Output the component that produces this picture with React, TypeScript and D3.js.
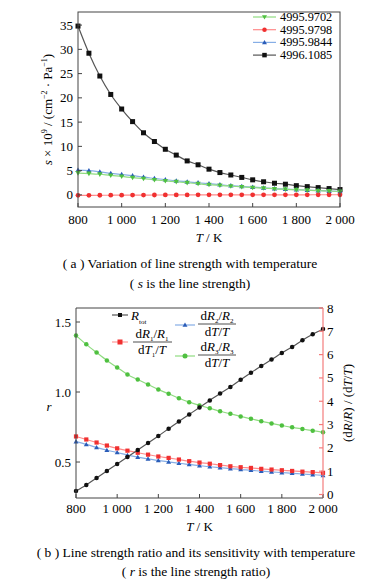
import React from "react";
import * as d3 from "d3";

const temps = [800, 850, 900, 950, 1000, 1050, 1100, 1150, 1200, 1250, 1300, 1350, 1400, 1450, 1500, 1550, 1600, 1650, 1700, 1750, 1800, 1850, 1900, 1950, 2000];
const xTicks = [800, 1000, 1200, 1400, 1600, 1800, 2000];
const xTickLabels = ["800", "1 000", "1 200", "1 400", "1 600", "1 800", "2 000"];
const topYTicks = [0, 5, 10, 15, 20, 25, 30, 35];

const s9702 = [4.5, 4.4, 4.25, 4.0, 3.8, 3.55, 3.35, 3.1, 2.9, 2.7, 2.5, 2.3, 2.1, 1.95, 1.8, 1.65, 1.5, 1.4, 1.25, 1.15, 1.05, 0.95, 0.85, 0.8, 0.7];
const s9798 = [-0.1, -0.1, -0.08, -0.07, -0.06, -0.05, -0.04, -0.03, -0.02, -0.02, -0.01, 0, 0, 0, 0, 0.01, 0.01, 0.01, 0.02, 0.02, 0.02, 0.02, 0.03, 0.03, 0.03];
const s9844 = [5.1, 5.0, 4.75, 4.45, 4.2, 3.95, 3.65, 3.4, 3.15, 2.9, 2.7, 2.5, 2.3, 2.1, 1.9, 1.75, 1.6, 1.45, 1.3, 1.2, 1.1, 1.0, 0.9, 0.8, 0.75];
const s1085 = [34.8, 29.2, 24.5, 20.7, 17.7, 15.1, 12.8, 11.0, 9.4, 8.2, 7.0, 6.2, 5.3, 4.6, 4.1, 3.6, 3.1, 2.7, 2.4, 2.2, 1.9, 1.7, 1.5, 1.3, 1.1];
const topLegend = ["4995.9702", "4995.9798", "4995.9844", "4996.1085"];

const rTot = [0.293, 0.336, 0.386, 0.436, 0.486, 0.536, 0.586, 0.636, 0.686, 0.738, 0.79, 0.84, 0.89, 0.94, 0.99, 1.036, 1.088, 1.138, 1.186, 1.232, 1.279, 1.322, 1.37, 1.412, 1.45];
const dR1 = [2.49, 2.36, 2.23, 2.1, 1.98, 1.88, 1.79, 1.71, 1.63, 1.57, 1.5, 1.43, 1.37, 1.32, 1.26, 1.21, 1.17, 1.14, 1.1, 1.07, 1.04, 1.01, 0.98, 0.96, 0.93];
const dR2 = [2.27, 2.15, 2.02, 1.9, 1.8, 1.69, 1.6, 1.53, 1.46, 1.4, 1.34, 1.29, 1.24, 1.19, 1.15, 1.11, 1.07, 1.04, 1.0, 0.97, 0.94, 0.91, 0.88, 0.85, 0.82];
const dR3 = [6.82, 6.44, 6.09, 5.75, 5.45, 5.15, 4.93, 4.72, 4.5, 4.32, 4.13, 3.96, 3.82, 3.7, 3.57, 3.46, 3.35, 3.25, 3.14, 3.05, 2.96, 2.88, 2.81, 2.74, 2.67];
const leftYTicks = [0.5, 1.0, 1.5];
const leftYLabels = ["0.5", "1.0", "1.5"];
const rightYTicks = [0, 1, 2, 3, 4, 5, 6, 7, 8];

const FONT = "Liberation Serif, DejaVu Serif, serif";

type Shape = "square" | "circle" | "tri" | "dtri";

function Marker({ x, y, shape, size, fill }: { x: number; y: number; shape: Shape; size: number; fill: string }) {
  const h = size / 2;
  if (shape === "square") return <rect x={x - h} y={y - h} width={size} height={size} fill={fill} />;
  if (shape === "circle") return <circle cx={x} cy={y} r={h} fill={fill} />;
  if (shape === "tri") return <path d={`M${x},${y - h * 1.1}L${x + h * 1.1},${y + h * 0.8}L${x - h * 1.1},${y + h * 0.8}Z`} fill={fill} />;
  return <path d={`M${x - h * 1.1},${y - h * 0.8}L${x + h * 1.1},${y - h * 0.8}L${x},${y + h * 1.1}Z`} fill={fill} />;
}

function Series({ xs, ys, x, y, line, mark, shape, size, width }: any) {
  const gen = d3.line<number>().x((_, i) => x(xs[i])).y((d) => y(d)).curve(d3.curveMonotoneX);
  return (
    <g>
      <path d={gen(ys) || ""} fill="none" stroke={line} strokeWidth={width || 1.2} />
      {ys.map((v: number, i: number) => (
        <Marker key={i} x={x(xs[i])} y={y(v)} shape={shape} size={size} fill={mark} />
      ))}
    </g>
  );
}

export default function App() {
  // top chart
  const L1 = 78, R1 = 340, T1 = 12, B1 = 207;
  const x1 = d3.scaleLinear().domain([800, 2000]).range([L1, R1]);
  const y1 = d3.scaleLinear().domain([-2.5, 37.7]).range([B1, T1]);
  // bottom chart
  const L2 = 76, R2 = 323, T2 = 308, B2 = 498;
  const x2 = d3.scaleLinear().domain([800, 2000]).range([L2, R2]);
  const yl = d3.scaleLinear().domain([0.243, 1.6]).range([B2, T2]);
  const yr = d3.scaleLinear().domain([-0.15, 8]).range([B2, T2]);

  const frame = "#444";
  const fs = 13;
  const topSeries = [
    { ys: s9702, line: "#8fdc80", mark: "#4fc040", shape: "dtri" as Shape },
    { ys: s9798, line: "#ff8a8a", mark: "#f03030", shape: "circle" as Shape },
    { ys: s9844, line: "#86aee6", mark: "#2a5cb8", shape: "tri" as Shape },
    { ys: s1085, line: "#555", mark: "#111", shape: "square" as Shape },
  ];

  return (
    <svg width={382} height={586} style={{ position: "absolute", left: 0, top: 0, background: "#fff", fontFamily: FONT }}>
      <rect width={382} height={586} fill="#fff" />
      {/* ---------- TOP CHART ---------- */}
      <g>
        {topSeries.slice().reverse().map((s, i) => (
          <Series key={i} xs={temps} ys={s.ys} x={x1} y={y1} line={s.line} mark={s.mark} shape={s.shape} size={s.shape === "square" ? 5 : 4.8} />
        ))}
        <rect x={L1} y={T1} width={R1 - L1} height={B1 - T1} fill="none" stroke={frame} strokeWidth={1} />
        {xTicks.map((t, i) => (
          <g key={t}>
            <line x1={x1(t)} x2={x1(t)} y1={B1} y2={B1 - 4} stroke={frame} />
            <text x={x1(t)} y={B1 + 17} fontSize={fs} textAnchor="middle">{xTickLabels[i]}</text>
          </g>
        ))}
        {topYTicks.map((t) => (
          <g key={t}>
            <line x1={L1} x2={L1 + 4} y1={y1(t)} y2={y1(t)} stroke={frame} />
            <text x={L1 - 5} y={y1(t) + 4.5} fontSize={fs} textAnchor="end">{t}</text>
          </g>
        ))}
        <text x={(L1 + R1) / 2} y={242} fontSize={fs} textAnchor="middle">
          <tspan fontStyle="italic">T</tspan> / K
        </text>
        <text transform={`translate(52,${(T1 + B1) / 2}) rotate(-90)`} fontSize={fs} textAnchor="middle">
          <tspan fontStyle="italic">s</tspan> × 10<tspan fontSize={8} dy={-5}>9</tspan>
          <tspan dy={5}> / (cm</tspan><tspan fontSize={8} dy={-5}>−2</tspan>
          <tspan dy={5}> · Pa</tspan><tspan fontSize={8} dy={-5}>−1</tspan>
          <tspan dy={5}>)</tspan>
        </text>
        {/* legend */}
        {topSeries.map((s, i) => {
          const ly = 17 + i * 12.7;
          return (
            <g key={i}>
              <line x1={253} x2={276} y1={ly} y2={ly} stroke={s.line} strokeWidth={1.2} />
              <Marker x={264.5} y={ly} shape={s.shape} size={4.5} fill={s.mark} />
              <text x={280} y={ly + 4} fontSize={12.3}>{topLegend[i]}</text>
            </g>
          );
        })}
        <text x={190} y={268} fontSize={13.5} textAnchor="middle">( a )  Variation of line strength with temperature</text>
        <text x={190} y={288} fontSize={13.5} textAnchor="middle">( <tspan fontStyle="italic">s</tspan> is the line strength)</text>
      </g>

      {/* ---------- BOTTOM CHART ---------- */}
      <g>
        <Series xs={temps} ys={dR3} x={x2} y={yr} line="#8fdc80" mark="#4fc040" shape="circle" size={4.5} />
        <Series xs={temps} ys={dR2} x={x2} y={yr} line="#86aee6" mark="#2a5cb8" shape="tri" size={4.5} />
        <Series xs={temps} ys={dR1} x={x2} y={yr} line="#ff8a8a" mark="#f03030" shape="square" size={4.2} />
        <Series xs={temps} ys={rTot} x={x2} y={yl} line="#555" mark="#111" shape="circle" size={4.5} />
        <line x1={L2} x2={R2} y1={T2} y2={T2} stroke={frame} />
        <line x1={L2} x2={R2} y1={B2} y2={B2} stroke={frame} />
        <line x1={L2} x2={L2} y1={T2} y2={B2} stroke={frame} />
        <line x1={R2} x2={R2} y1={T2} y2={B2} stroke="#f47c7c" strokeWidth={1.2} />
        {xTicks.map((t, i) => (
          <g key={t}>
            <line x1={x2(t)} x2={x2(t)} y1={B2} y2={B2 - 4} stroke={frame} />
            <text x={x2(t)} y={B2 + 15} fontSize={fs} textAnchor="middle">{xTickLabels[i]}</text>
          </g>
        ))}
        {leftYTicks.map((t, i) => (
          <g key={t}>
            <line x1={L2} x2={L2 + 4} y1={yl(t)} y2={yl(t)} stroke={frame} />
            <text x={L2 - 5} y={yl(t) + 4.5} fontSize={fs} textAnchor="end">{leftYLabels[i]}</text>
          </g>
        ))}
        {rightYTicks.map((t) => (
          <g key={t}>
            <line x1={R2} x2={R2 - 4} y1={yr(t)} y2={yr(t)} stroke="#f47c7c" strokeWidth={1.2} />
            <text x={R2 + 4} y={yr(t) + 4.5} fontSize={fs} textAnchor="start">{t}</text>
          </g>
        ))}
        <text x={(L2 + R2) / 2} y={531} fontSize={fs} textAnchor="middle">
          <tspan fontStyle="italic">T</tspan> / K
        </text>
        <text x={49} y={(T2 + B2) / 2 + 8} fontSize={fs} fontStyle="italic" textAnchor="middle">r</text>
        <text transform={`translate(352,${(T2 + B2) / 2}) rotate(-90)`} fontSize={fs} textAnchor="middle">
          (d<tspan fontStyle="italic">R</tspan>/<tspan fontStyle="italic">R</tspan>) / (d<tspan fontStyle="italic">T</tspan>/<tspan fontStyle="italic">T</tspan>)
        </text>
        {/* legend */}
        <g>
          <line x1={112} x2={128} y1={315} y2={315} stroke="#555" strokeWidth={1.2} />
          <Marker x={120} y={315} shape="square" size={4} fill="#111" />
          <text x={131} y={320} fontSize={fs}>
            <tspan fontStyle="italic">R</tspan><tspan fontSize={7} dy={4}>tot</tspan>
          </text>

          <line x1={112} x2={128} y1={342} y2={342} stroke="#ff9a9a" strokeWidth={1.2} />
          <Marker x={120} y={342} shape="square" size={5} fill="#f03030" />
          <text x={152} y={338} fontSize={fs} textAnchor="middle">
            d<tspan fontStyle="italic">R</tspan><tspan fontSize={7} dy={3}>1</tspan><tspan dy={-3}>/</tspan><tspan fontStyle="italic">R</tspan><tspan fontSize={7} dy={3}>1</tspan>
          </text>
          <line x1={133} x2={172} y1={342} y2={342} stroke="#222" strokeWidth={0.8} />
          <text x={152} y={354} fontSize={fs} textAnchor="middle">
            d<tspan fontStyle="italic">T</tspan><tspan fontSize={7} dy={3}>1</tspan><tspan dy={-3}>/</tspan><tspan fontStyle="italic">T</tspan>
          </text>

          <line x1={175} x2={195} y1={325} y2={325} stroke="#86aee6" strokeWidth={1.2} />
          <Marker x={185} y={325} shape="tri" size={4.5} fill="#2a5cb8" />
          <text x={217} y={320} fontSize={fs} textAnchor="middle">
            d<tspan fontStyle="italic">R</tspan><tspan fontSize={7} dy={3}>2</tspan><tspan dy={-3}>/</tspan><tspan fontStyle="italic">R</tspan><tspan fontSize={7} dy={3}>2</tspan>
          </text>
          <line x1={198} x2={236} y1={324} y2={324} stroke="#222" strokeWidth={0.8} />
          <text x={217} y={336} fontSize={fs} textAnchor="middle">
            d<tspan fontStyle="italic">T</tspan>/<tspan fontStyle="italic">T</tspan>
          </text>

          <line x1={175} x2={195} y1={356} y2={356} stroke="#8fdc80" strokeWidth={1.2} />
          <Marker x={185} y={356} shape="circle" size={5} fill="#4fc040" />
          <text x={217} y={351} fontSize={fs} textAnchor="middle">
            d<tspan fontStyle="italic">R</tspan><tspan fontSize={7} dy={3}>3</tspan><tspan dy={-3}>/</tspan><tspan fontStyle="italic">R</tspan><tspan fontSize={7} dy={3}>3</tspan>
          </text>
          <line x1={198} x2={236} y1={355} y2={355} stroke="#222" strokeWidth={0.8} />
          <text x={217} y={367} fontSize={fs} textAnchor="middle">
            d<tspan fontStyle="italic">T</tspan>/<tspan fontStyle="italic">T</tspan>
          </text>
        </g>
        <text x={196} y={557} fontSize={13.5} textAnchor="middle">( b )  Line strength ratio and its sensitivity with temperature</text>
        <text x={196} y={576} fontSize={13.5} textAnchor="middle">( <tspan fontStyle="italic">r</tspan> is the line strength ratio)</text>
      </g>
    </svg>
  );
}
